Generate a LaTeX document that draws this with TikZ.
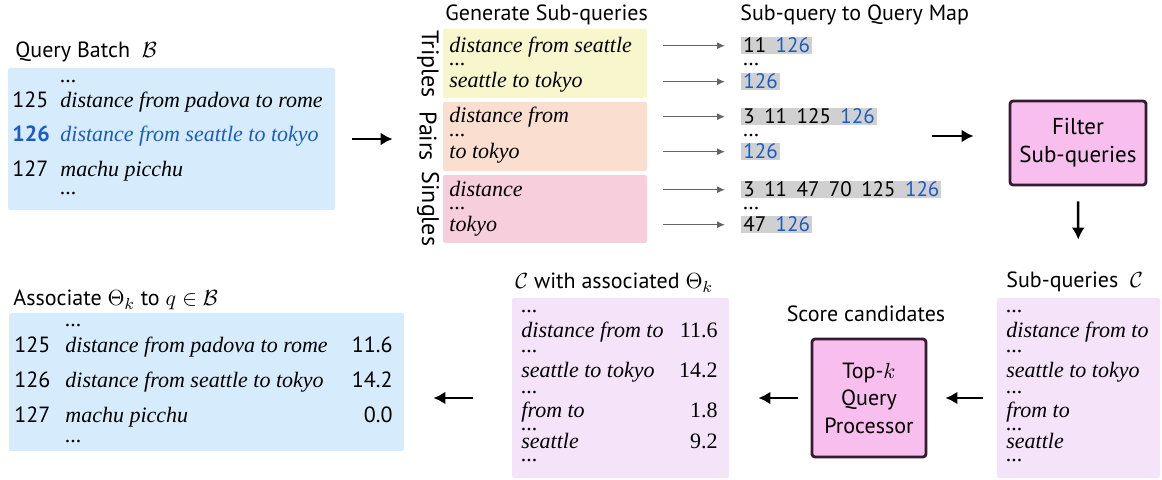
\documentclass[tikz,border=0pt]{standalone}
\usepackage{amsmath}
\usepackage{amssymb}
\usepackage{fontspec}
\setmainfont{Liberation Serif}
\setsansfont{PT Sans}
\usepackage{tikz}
\usetikzlibrary{arrows.meta, positioning, calc}

\definecolor{batchblue}{RGB}{214,236,252}
\definecolor{triyellow}{RGB}{248,246,204}
\definecolor{pairpeach}{RGB}{250,223,208}
\definecolor{singlepink}{RGB}{247,206,220}
\definecolor{candlilac}{RGB}{245,227,250}
\definecolor{procfill}{RGB}{247,190,238}
\definecolor{procedge}{RGB}{55,25,50}
\definecolor{mapgray}{RGB}{208,208,208}
\definecolor{arrowgray}{RGB}{100,100,100}
\definecolor{qblue}{RGB}{26,92,196}

\newcommand{\idsep}{\hspace{0.45em}}
\newcommand{\qdots}{...}

\begin{document}
\begin{tikzpicture}[x=0.5pt, y=-0.5pt, font=\sffamily\fontsize{11}{13}\selectfont,
    box/.style={rounded corners=1pt, inner sep=0pt},
    title/.style={anchor=base west, inner sep=0pt},
    idx/.style={anchor=base west, inner sep=0pt},
    qtext/.style={anchor=base west, inner sep=0pt, font=\rmfamily\itshape\fontsize{11}{13}\selectfont},
    val/.style={anchor=base east, inner sep=0pt},
    hl/.style={anchor=base west, fill=mapgray, inner xsep=1pt, inner ysep=0.4pt,
        text height=7.5pt, text depth=0.2pt, font=\sffamily\fontsize{10.5}{12}\selectfont},
    setlabel/.style={rotate=-90, inner sep=0pt, font=\sffamily\fontsize{12}{14}\selectfont},
    procbox/.style={draw=procedge, fill=procfill, line width=1.4pt, rounded corners=1.5pt,
        align=center, inner sep=0pt},
    bigarrow/.style={-{Latex[length=6pt,width=6.5pt]}, line width=1.2pt},
    maparrow/.style={-{Latex[length=4pt,width=3.5pt]}, draw=arrowgray, line width=0.6pt}]
    \useasboundingbox (0,0) rectangle (1162,480);

    % query batch
    \node[box, fill=batchblue, minimum width=163.5pt, minimum height=71pt] (batch) at (171.5,139) {};
    \node[title] (batchtitle) at (15,58) {Query Batch\ \ $\mathcal{B}$};
    \node[qtext] (bdots1) at (60,83) {\qdots};
    \node[idx] (b125) at (12,108) {125};
    \node[qtext] (q125) at (60,108) {distance from padova to rome};
    \node[idx, font=\sffamily\bfseries\fontsize{11}{13}\selectfont, text=qblue] (b126) at (12,142) {126};
    \node[qtext, text=qblue] (q126) at (60,142) {distance from seattle to tokyo};
    \node[idx] (b127) at (12,177) {127};
    \node[qtext] (q127) at (60,177) {machu picchu};
    \node[qtext] (bdots2) at (60,195) {\qdots};

    % generated sub-queries
    \node[title] (gentitle) at (445,21) {Generate Sub-queries};
    \node[box, fill=triyellow, minimum width=102pt, minimum height=34.5pt] (tri) at (545,63.5) {};
    \node[box, fill=pairpeach, minimum width=102pt, minimum height=34.5pt] (pair) at (545,136.5) {};
    \node[box, fill=singlepink, minimum width=102pt, minimum height=34pt] (single) at (545,209) {};
    \node[setlabel] (trilabel) at (428,64) {Triples};
    \node[setlabel] (pairlabel) at (428,136) {Pairs};
    \node[setlabel] (singlelabel) at (428,209) {Singles};
    \draw[bigarrow, shorten <=8.5pt, shorten >=25pt] (batch.east) -- (batch.east -| pair.west);

    \foreach \name/\txt/\y in {t1/distance from seattle/53, t2/\qdots/66, t3/seattle to tokyo/88,
        p1/distance from/123, p2/\qdots/137, p3/to tokyo/159,
        s1/distance/197, s2/\qdots/210, s3/tokyo/232}
        \node[qtext] (\name) at (449,\y) {\txt};

    % sub-query to query map
    \node[title] (maptitle) at (740,21) {Sub-query to Query Map};
    \node[hl] (m1) at (741,53) {11\idsep\textcolor{qblue}{126}};
    \node[qtext] (mdots1) at (743,66) {\qdots};
    \node[hl] (m2) at (741,89) {\textcolor{qblue}{126}};
    \node[hl] (m3) at (741,124) {3\idsep11\idsep125\idsep\textcolor{qblue}{126}};
    \node[qtext] (mdots2) at (743,137) {\qdots};
    \node[hl] (m4) at (741,159) {\textcolor{qblue}{126}};
    \node[hl] (m5) at (741,197) {3\idsep11\idsep47\idsep70\idsep125\idsep\textcolor{qblue}{126}};
    \node[qtext] (mdots3) at (743,210) {\qdots};
    \node[hl] (m6) at (741,232) {47\idsep\textcolor{qblue}{126}};

    \foreach \s/\m in {tri/m1, tri/m2, pair/m3, pair/m4, single/m5, single/m6}
        \draw[maparrow, shorten <=8pt, shorten >=8pt] (\s.east |- \m.west) -- (\m.west);

    % filtering
    \node[procbox, minimum width=68pt, minimum height=42pt,
        font=\sffamily\fontsize{11.5}{14}\selectfont] (filter) at (1078,143) {Filter\\Sub-queries};
    \coordinate (mapout) at (932,136);
    \draw[bigarrow, shorten >=17.5pt] (mapout) -- (mapout -| filter.west);

    % candidate sub-queries
    \node[box, fill=candlilac, minimum width=81.5pt, minimum height=90pt] (subq) at (1078.5,388) {};
    \node[title] (subqtitle) at (1006,288) {Sub-queries\ \ $\mathcal{C}$};
    \draw[bigarrow, shorten <=7.5pt, shorten >=29pt] (filter.south) -- (subq.north);

    \foreach \name/\txt/\y in {c1/\qdots/313, c2/distance from to/338, c3/\qdots/353,
        c4/seattle to tokyo/378, c5/\qdots/394, c6/from to/418, c7/\qdots/430,
        c8/seattle/449, c9/\qdots/462}
        \node[qtext] (\name) at (1006,\y) {\txt};

    % scoring
    \node[procbox, minimum width=57pt, minimum height=59pt,
        font=\sffamily\fontsize{11}{13.75}\selectfont] (topk) at (869,398) {Top-$k$\\Query\\Processor};
    \node[anchor=base, inner sep=0pt] (scoretitle) at (866,322) {Score candidates};
    \draw[bigarrow, shorten <=7pt, shorten >=9pt] (subq.west |- topk.east) -- (topk.east);

    % candidates with scores
    \node[box, fill=candlilac, minimum width=108.5pt, minimum height=90pt] (cand) at (620.5,388) {};
    \node[title] (candtitle) at (515,289) {$\mathcal{C}$ with associated $\Theta_k$};
    \draw[bigarrow, shorten <=6.5pt, shorten >=14.5pt] (topk.west) -- (cand.east |- topk.west);

    \foreach \name/\txt/\y in {d1/\qdots/313, d2/distance from to/338, d3/\qdots/353,
        d4/seattle to tokyo/378, d5/\qdots/394, d6/from to/418, d7/\qdots/430,
        d8/seattle/449, d9/\qdots/462}
        \node[qtext] (\name) at (521,\y) {\txt};
    \foreach \name/\v/\y in {v1/11.6/338, v2/14.2/378, v3/1.8/418, v4/9.2/449}
        \node[val, font=\rmfamily\fontsize{11}{13}\selectfont] (\name) at (718,\y) {\v};

    % scores back to the batch
    \node[box, fill=batchblue, minimum width=197.5pt, minimum height=69pt] (assoc) at (206.5,382) {};
    \node[title] (assoctitle) at (13,306) {Associate $\Theta_k$ to $q \in \mathcal{B}$};
    \draw[bigarrow, shorten <=19.5pt, shorten >=14.5pt] (cand.west |- topk.west) -- (assoc.east |- topk.west);

    \node[qtext] (adots1) at (65,327) {\qdots};
    \foreach \n/\q/\v/\y in {125/distance from padova to rome/11.6/353,
        126/distance from seattle to tokyo/14.2/388, 127/machu picchu/0.0/423} {
        \node[idx] (a\n) at (14,\y) {\n};
        \node[qtext] (aq\n) at (65,\y) {\q};
        \node[val] (av\n) at (393,\y) {\v};
    }
    \node[qtext] (adots2) at (65,443) {\qdots};
\end{tikzpicture}
\end{document}
